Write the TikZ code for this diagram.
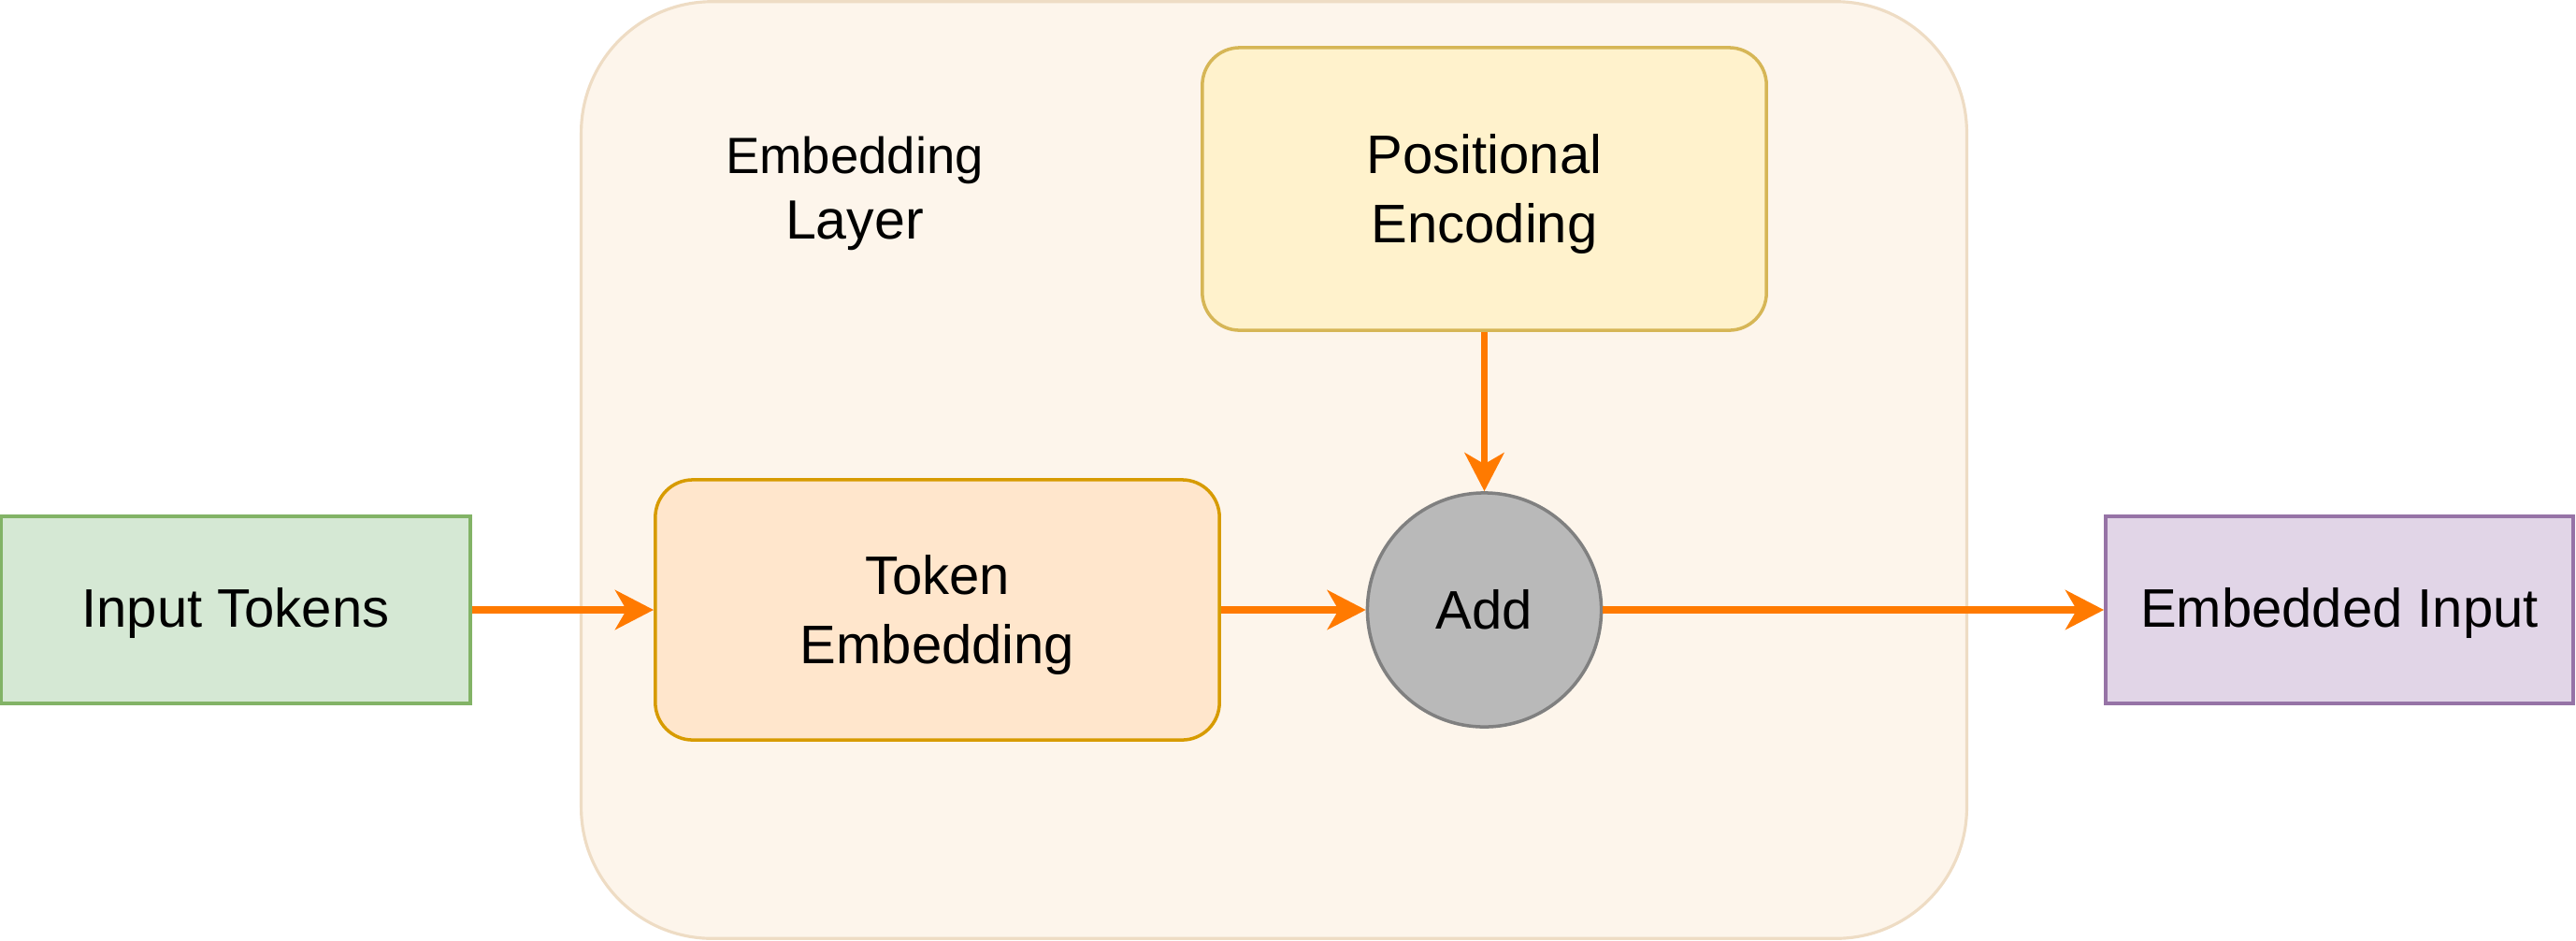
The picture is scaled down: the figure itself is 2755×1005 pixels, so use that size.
\documentclass[tikz,border=0pt]{standalone}
\usepackage{fontspec}
\setmainfont{Liberation Sans}
\usetikzlibrary{arrows.meta}
\definecolor{contfill}{HTML}{FDF5EB}
\definecolor{contdraw}{HTML}{EEDCC4}
\definecolor{posfill}{HTML}{FFF2CC}
\definecolor{posdraw}{HTML}{D6B656}
\definecolor{tokfill}{HTML}{FFE6CC}
\definecolor{tokdraw}{HTML}{D79B00}
\definecolor{addfill}{HTML}{B9B9B9}
\definecolor{adddraw}{HTML}{808080}
\definecolor{infill}{HTML}{D5E8D4}
\definecolor{indraw}{HTML}{82B366}
\definecolor{outfill}{HTML}{E1D5E7}
\definecolor{outdraw}{HTML}{9673A6}
\definecolor{arrowc}{HTML}{FF7A00}
\newcommand{\lowtxt}[2][0.06cm]{\raisebox{-#1}[\height][\depth]{\begin{tabular}{@{}c@{}}#2\end{tabular}}}
\tikzset{
  lbl/.style={font=\fontsize{16.5}{21}\selectfont, align=center, text=black, inner sep=0pt},
  rbox/.style={lbl, draw, line width=1pt, rounded corners=0.4cm},
  conn/.style={draw=arrowc, line width=2.1pt, -{Stealth[length=0.41cm,width=0.42cm,inset=0.12cm]}}
}
\begin{document}
\begin{tikzpicture}[x=0.01cm,y=-0.01cm]
\useasboundingbox (0,0) rectangle (2755,1005);
\node[draw=contdraw, fill=contfill, line width=0.9pt, rounded corners=1.4cm, minimum width=14.81cm, minimum height=10.01cm, inner sep=0pt] (cont) at (1362.5,502.5) {};
\node[inner sep=0pt, align=center, font=\fontsize{16.8}{20}\selectfont] (lay) at (914,207) {{\fontsize{15.5}{20}\selectfont Embedding}\\{\fontsize{16.8}{20}\selectfont Layer}};
\node[rbox, fill=posfill, draw=posdraw, minimum width=6.03cm, minimum height=3.02cm] (pos) at (1587.5,202) {\lowtxt{Positional\\Encoding}};
\node[rbox, fill=tokfill, draw=tokdraw, minimum width=6.03cm, minimum height=2.78cm] (tok) at (1002.5,652) {\lowtxt{Token\\Embedding}};
\node[lbl, circle, draw=adddraw, fill=addfill, line width=1pt, minimum size=2.5cm] (add) at (1587.5,652) {Add};
\node[lbl, draw=indraw, fill=infill, line width=1pt, minimum width=5.02cm, minimum height=2.0cm] (in) at (252,652) {\lowtxt[0.04cm]{Input Tokens}};
\node[lbl, draw=outdraw, fill=outfill, line width=1pt, minimum width=5.0cm, minimum height=2.0cm] (out) at (2502,652) {\lowtxt[0.04cm]{Embedded Input}};
\draw[conn] (in) -- (tok);
\draw[conn] (tok) -- (add);
\draw[conn] (add) -- (out);
\draw[conn] (pos) -- (add);
\end{tikzpicture}
\end{document}
